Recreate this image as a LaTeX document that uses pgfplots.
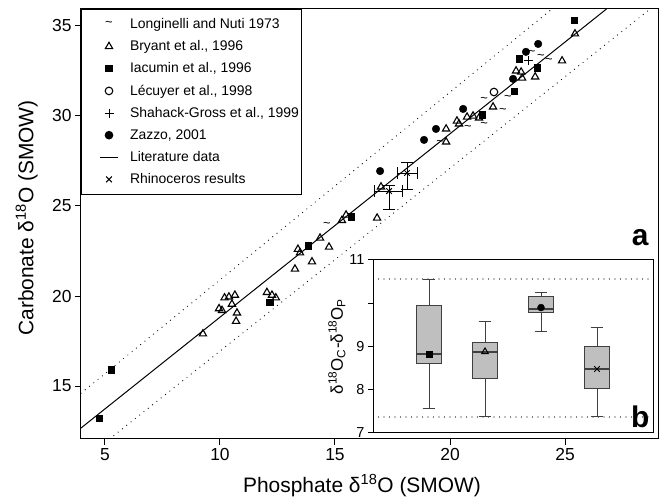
\documentclass[border=0pt]{standalone}
\usepackage{pgfplots}
\pgfplotsset{compat=1.18}
\usepgfplotslibrary{statistics}
\usepackage{fontspec}
\setmainfont{Liberation Sans}

\begin{document}
\begin{tikzpicture}[x=1bp,y=1bp]
\begin{axis}[
    name=main,
    at={(0,0)}, anchor=south west,
    scale only axis, width=577bp, height=430bp,
    xmin=3.96, xmax=29.04, ymin=12.06, ymax=35.94,
    xtick={5,10,15,20,25}, ytick={15,20,25,30,35},
    xtick pos=bottom, ytick pos=left, tick align=outside,
    major tick length=6bp,
    axis line style={line width=1bp},
    tick style={line width=1bp, black},
    /pgf/number format/assume math mode=true,
    tick label style={font=\fontsize{17.5}{18}\selectfont},
    label style={font=\fontsize{21}{22}\selectfont},
    xlabel={Phosphate δ\textsuperscript{18}O (SMOW)},
    ylabel={Carbonate δ\textsuperscript{18}O (SMOW)},
    xlabel style={at={(axis description cs:0.487,-0.108)}, anchor=center},
    ylabel style={at={(axis description cs:-0.094,0.514)}, anchor=center},
    legend style={at={(0,1)}, anchor=north west, draw=black, line width=1bp,
        font=\fontsize{14}{16}\selectfont, row sep=6.6bp, column sep=10bp,
        inner xsep=0bp, inner ysep=7bp},
    legend cell align=left,
    legend image code/.code={
        \path[draw=none, fill=none] (-19bp,-0.1cm) rectangle (0.6cm,0.1cm);
        \draw[mark repeat=2,mark phase=2,#1] plot coordinates {(0cm,0cm) (0.3cm,0cm) (0.6cm,0cm)};
    },
]
% Longinelli and Nuti 1973
\addplot[only marks, mark=text, text mark={\fontsize{13}{13}\selectfont\textasciitilde}] coordinates {
    (14.65,23.94) (19.57,28.5) (20.78,29.33) (21.48,30.89) (22.3,30.28)
    (21.48,29.5) (22.52,31.0) (23.55,33.5) (24.3,33.05) (23.95,33.25)
};
\addlegendentry{Longinelli and Nuti 1973}
% Bryant et al., 1996
\addplot[only marks, mark=triangle, mark size=4.2bp, line width=1.1bp] coordinates {
    (9.26,17.9) (9.96,19.3) (10.09,19.2) (10.2,19.9) (10.39,19.95) (10.52,19.55)
    (10.65,20.05) (10.74,19.06) (10.7,18.6) (12.04,20.2) (12.26,20.05) (12.43,19.9)
    (13.26,21.5) (13.39,22.6) (13.48,22.4) (14.0,21.9) (14.35,23.22) (14.74,22.72)
    (15.3,24.2) (15.48,24.5) (16.83,24.33) (17.0,26.06) (19.83,29.28) (19.83,28.56)
    (20.3,29.72) (20.39,29.56) (20.74,29.94) (21.0,30.0) (21.26,29.89) (21.87,30.5)
    (22.87,32.5) (23.09,32.44) (23.13,32.11) (23.7,32.17) (24.87,33.06) (25.43,34.56)
};
\addlegendentry{Bryant et al., 1996}
% Iacumin et al., 1996
\addplot[only marks, mark=square*, mark size=3.2bp] coordinates {
    (4.74,13.22) (5.26,15.9) (12.17,19.67) (13.83,22.8) (15.7,24.4)
    (21.39,30.06) (22.78,31.39) (23.78,32.67) (23.0,33.17) (25.39,35.33)
};
\addlegendentry{Iacumin et al., 1996}
% Lecuyer et al., 1998
\addplot[only marks, mark=o, mark size=3.8bp, line width=1.1bp] coordinates {
    (21.91,31.33)
};
\addlegendentry{Lécuyer et al., 1998}
% Shahack-Gross et al., 1999
\addplot[only marks, mark=+, mark size=4.5bp, line width=1bp] coordinates {
    (23.39,33.1)
};
\addlegendentry{Shahack-Gross et al., 1999}
% Zazzo, 2001
\addplot[only marks, mark=*, mark size=3.8bp] coordinates {
    (16.96,26.94) (18.87,28.67) (19.39,29.28) (20.57,30.39)
    (22.74,32.06) (23.3,33.56) (23.83,34.0)
};
\addlegendentry{Zazzo, 2001}
% literature regression
\addplot[black, mark=none, line width=1bp] coordinates {(3.96,12.67) (26.8,35.94)};
\addlegendentry{Literature data}
% rhinoceros
\addplot[only marks, mark=x, mark size=4bp, line width=1bp,
    error bars/.cd, x dir=both, x explicit, y dir=both, y explicit,
    error bar style={line width=1bp},
    error mark options={rotate=90, line width=1bp, mark size=6bp}] coordinates {
    (17.35,25.83) += (0.6,0.28) -= (0.65,1.05)
    (18.13,26.83) += (0.44,0.56) -= (0.43,0.94)
};
\addlegendentry{Rhinoceros results}
% dotted bounds
\addplot[forget plot, black, line width=1.2bp, line cap=round, dash pattern=on 0bp off 5.5bp]
    coordinates {(3.96,14.6) (24.43,35.94)};
\addplot[forget plot, black, line width=1.2bp, line cap=round, dash pattern=on 0bp off 5.5bp]
    coordinates {(5.2,12.06) (28.7,35.94)};
\node[font=\bfseries\fontsize{30}{30}\selectfont] at (axis cs:28.26,23.22) {a};
\end{axis}

\begin{axis}[
    at={(292bp,6bp)}, anchor=south west,
    scale only axis, width=280bp, height=173bp,
    xmin=0, xmax=5, ymin=7, ymax=11,
    xtick=\empty, ytick={7,8,9,10,11}, yticklabels={7,8,9,,11},
    ytick pos=left, tick align=outside, major tick length=5bp,
    axis line style={line width=1bp},
    tick style={line width=1bp, black},
    axis background/.style={fill=white},
    tick label style={font=\fontsize{14.5}{15}\selectfont},
    ylabel={δ\textsuperscript{18}O\textsubscript{C}-δ\textsuperscript{18}O\textsubscript{P}},
    ylabel style={font=\fontsize{17}{18}\selectfont, at={(axis description cs:-0.129,0.5)}, anchor=center},
    boxplot/draw direction=y,
    boxplot/box extend=0.45, boxplot/whisker extend=0.225,
    boxplot/every median/.style={line width=1.8bp},
]
\addplot[forget plot, black, line width=1.2bp, line cap=round, dash pattern=on 0bp off 5.5bp]
    coordinates {(0,10.56) (5,10.56)};
\addplot[forget plot, black, line width=1.2bp, line cap=round, dash pattern=on 0bp off 5.5bp]
    coordinates {(0,7.37) (5,7.37)};
\addplot[draw=black!75, fill=gray!50, line width=1bp, boxplot prepared={draw position=1,
    lower whisker=7.56, lower quartile=8.6, median=8.83, upper quartile=9.94, upper whisker=10.56}]
    coordinates {};
\addplot[draw=black!75, fill=gray!50, line width=1bp, boxplot prepared={draw position=2,
    lower whisker=7.37, lower quartile=8.27, median=8.87, upper quartile=9.1, upper whisker=9.57}]
    coordinates {};
\addplot[draw=black!75, fill=gray!50, line width=1bp, boxplot prepared={draw position=3,
    lower whisker=9.34, lower quartile=9.78, median=9.87, upper quartile=10.15, upper whisker=10.26}]
    coordinates {};
\addplot[draw=black!75, fill=gray!50, line width=1bp, boxplot prepared={draw position=4,
    lower whisker=7.37, lower quartile=8.04, median=8.48, upper quartile=8.99, upper whisker=9.45}]
    coordinates {};
\addplot[only marks, mark=square*, mark size=3bp] coordinates {(1,8.83)};
\addplot[only marks, mark=triangle, mark size=3.8bp, line width=1bp] coordinates {(2,8.88)};
\addplot[only marks, mark=*, mark size=3.5bp] coordinates {(3,9.9)};
\addplot[only marks, mark=x, mark size=4bp, line width=1bp] coordinates {(4,8.48)};
\node[font=\bfseries\fontsize{30}{30}\selectfont] at (axis cs:4.77,7.37) {b};
\end{axis}
\pgfresetboundingbox
\path[use as bounding box] (-81,-63) rectangle (583,439);
\end{tikzpicture}
\end{document}
